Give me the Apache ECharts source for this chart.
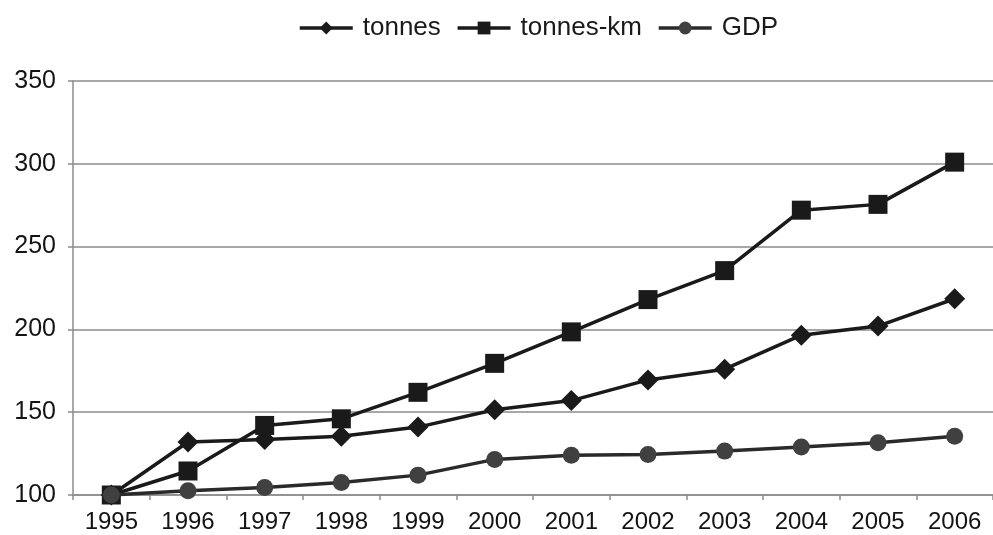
<!DOCTYPE html>
<html>
<head>
<meta charset="utf-8">
<script src="https://cdn.jsdelivr.net/npm/echarts@6/dist/echarts.min.js"></script>
<style>html,body{margin:0;padding:0;background:#fff}#c{width:993px;height:535px}</style>
</head>
<body>
<div id="c"></div>
<script>
const years = ['1995','1996','1997','1998','1999','2000','2001','2002','2003','2004','2005','2006'];
const tonnes = [100, 132, 133.5, 135.5, 141, 151.5, 157, 169.5, 176, 196.5, 202, 218.5];
const tonnesKm = [100, 114.5, 142, 146, 162, 179.5, 198.5, 218, 235.5, 272, 275.5, 301];
const gdp = [100, 102.5, 104.5, 107.5, 112, 121.5, 124, 124.5, 126.5, 129, 131.5, 135.5];
const yTicks = [100, 150, 200, 250, 300, 350];

const chart = echarts.init(document.getElementById('c'), null, {renderer: 'canvas'});
const font = 'Liberation Sans, Arial, sans-serif';
chart.setOption({
  animation: false,
  backgroundColor: '#ffffff',
  legend: {
    top: 10, left: 293,
    itemWidth: 53, itemHeight: 16, itemGap: 15,
    lineStyle: {width: 3.5},
    textStyle: {fontFamily: font, fontSize: 26, color: '#1a1a1a', padding: [0, 0, 0, 5]},
    data: ['tonnes', 'tonnes-km', 'GDP']
  },
  grid: {left: 73, top: 81, width: 922, height: 414, containLabel: false},
  xAxis: {
    type: 'category', data: years, boundaryGap: true,
    axisLine: {lineStyle: {color: '#8c8c8c', width: 1.5}},
    axisTick: {show: true, length: 5, lineStyle: {color: '#8c8c8c', width: 1.5}},
    axisLabel: {fontFamily: font, fontSize: 24, color: '#141414', margin: 15}
  },
  yAxis: {
    type: 'value', min: yTicks[0], max: yTicks[yTicks.length - 1], interval: 50,
    axisLine: {show: true, lineStyle: {color: '#8c8c8c', width: 1.5}},
    axisTick: {show: true, length: 5, lineStyle: {color: '#8c8c8c', width: 1.5}},
    axisLabel: {fontFamily: font, fontSize: 25, color: '#141414', margin: 17},
    splitLine: {lineStyle: {color: '#a8a8a8', width: 2}}
  },
  series: [
    {name: 'tonnes', type: 'line', data: tonnes, symbol: 'diamond', symbolSize: 21,
     lineStyle: {color: '#1a1a1a', width: 3.5}, itemStyle: {color: '#1a1a1a'}, z: 3},
    {name: 'tonnes-km', type: 'line', data: tonnesKm, symbol: 'rect', symbolSize: 19,
     lineStyle: {color: '#1a1a1a', width: 3.5}, itemStyle: {color: '#1a1a1a'}, z: 4},
    {name: 'GDP', type: 'line', data: gdp, symbol: 'circle', symbolSize: 17,
     lineStyle: {color: '#2a2a2a', width: 3.5}, itemStyle: {color: '#404040'}, z: 5}
  ]
});
</script>
</body>
</html>
